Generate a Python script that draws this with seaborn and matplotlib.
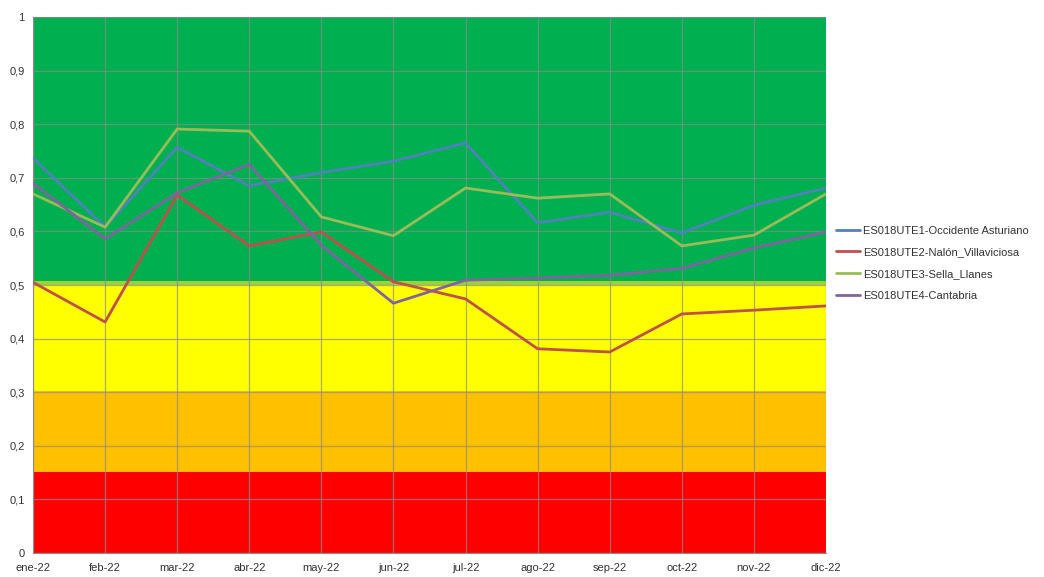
import matplotlib
matplotlib.use("Agg")
import matplotlib.pyplot as plt
import matplotlib.ticker as mticker
import seaborn as sns
import pandas as pd

months = ["ene-22", "feb-22", "mar-22", "abr-22", "may-22", "jun-22",
          "jul-22", "ago-22", "sep-22", "oct-22", "nov-22", "dic-22"]

occidente_asturiano = [0.737, 0.608, 0.757, 0.685, 0.710, 0.731,
                       0.765, 0.616, 0.636, 0.597, 0.649, 0.681]
nalon_villaviciosa = [0.505, 0.431, 0.668, 0.573, 0.599, 0.506,
                      0.474, 0.381, 0.375, 0.446, 0.453, 0.461]
sella_llanes = [0.670, 0.608, 0.791, 0.787, 0.627, 0.592,
                0.681, 0.662, 0.670, 0.573, 0.593, 0.670]
cantabria = [0.690, 0.586, 0.672, 0.725, 0.574, 0.466,
             0.509, 0.513, 0.518, 0.531, 0.569, 0.599]

series_names = ["ES018UTE1-Occidente Asturiano", "ES018UTE2-Nalón_Villaviciosa",
                "ES018UTE3-Sella_Llanes", "ES018UTE4-Cantabria"]
series_values = [occidente_asturiano, nalon_villaviciosa, sella_llanes, cantabria]
series_colors = ["#4F81BD", "#C0504D", "#9BBB59", "#8064A2"]

# quality class bands: (lower, upper, colour)
bands = [(0.0, 0.152, "#FF0000"),
         (0.152, 0.302, "#FFC000"),
         (0.302, 0.500, "#FFFF00"),
         (0.500, 0.508, "#9BD23A"),
         (0.508, 1.0, "#00B050")]

rows = []
for name, vals in zip(series_names, series_values):
    for i, (m, v) in enumerate(zip(months, vals)):
        rows.append({"idx": i, "mes": m, "serie": name, "valor": v})
df = pd.DataFrame(rows)

sns.set_style("white")
plt.rcParams["font.family"] = ["Liberation Sans", "DejaVu Sans"]

fig = plt.figure(figsize=(10.44, 5.77), dpi=100)
ax = fig.add_axes([0.0316, 0.0416, 0.7596, 0.9289])

for lo, hi, col in bands:
    ax.axhspan(lo, hi, color=col, lw=0, zorder=0)

sns.lineplot(data=df, x="idx", y="valor", hue="serie", hue_order=series_names,
             palette=series_colors, linewidth=2.0, ax=ax, zorder=3)

ax.set_xlim(0, len(months) - 1)
ax.set_ylim(0, 1)
ax.set_xticks(range(len(months)))
ax.set_xticklabels(months)
ax.set_yticks([i / 10 for i in range(11)])
ax.yaxis.set_major_formatter(mticker.FuncFormatter(
    lambda v, p: "0" if v == 0 else ("1" if v == 1 else f"{v:.1f}".replace(".", ","))))
ax.grid(True, color="#8c8c8c", linewidth=0.9, alpha=0.7)
for ln in ax.get_xgridlines() + ax.get_ygridlines():
    ln.set_zorder(1)
ax.set_xlabel("")
ax.set_ylabel("")
ax.tick_params(axis="both", labelsize=8, colors="#333333", length=3, pad=3)
ax.tick_params(axis="x", pad=4)
for s in ["top", "right"]:
    ax.spines[s].set_visible(False)
ax.spines["left"].set_color("#8c8c8c")
ax.spines["bottom"].set_color("#8c8c8c")

leg = ax.legend(loc="center left", bbox_to_anchor=(1.012, 0.541), frameon=False,
                fontsize=8, handlelength=2.2, handletextpad=0.25, labelspacing=1.05,
                borderpad=0, borderaxespad=0)
for line in leg.get_lines():
    line.set_linewidth(2.0)
for t in leg.get_texts():
    t.set_color("#333333")

fig.savefig("out.png", dpi=100)
